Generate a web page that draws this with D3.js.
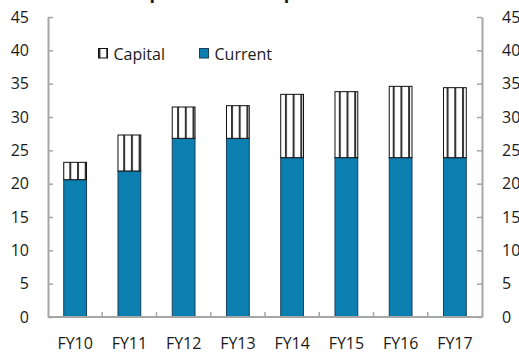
<!DOCTYPE html>
<html>
<head>
<meta charset="utf-8">
<script src="https://cdn.jsdelivr.net/npm/d3@7"></script>
<style>
  body { margin: 0; background: #fff; }
  text { font-family: "Open Sans", sans-serif; fill: #1a1a1a; }
</style>
</head>
<body>
<script>
// data
var years = ["FY10", "FY11", "FY12", "FY13", "FY14", "FY15", "FY16", "FY17"];
var current = [20.6, 21.9, 26.8, 26.8, 23.9, 23.9, 23.9, 23.9];
var capital = [2.6, 5.4, 4.7, 4.9, 9.5, 9.9, 10.7, 10.5];
var yTicks = [0, 5, 10, 15, 20, 25, 30, 35, 40, 45];
var series = ["Current", "Capital"];

var width = 519, height = 353;
var margin = {top: 17, right: 37, bottom: 36, left: 48};

var svg = d3.select("body").append("svg")
    .attr("width", width)
    .attr("height", height);

var defs = svg.append("defs");
var pat = defs.append("pattern")
    .attr("id", "vstripe")
    .attr("patternUnits", "userSpaceOnUse")
    .attr("width", 7.7)
    .attr("height", 10);
pat.append("rect").attr("width", 7.7).attr("height", 10).attr("fill", "#fff");
pat.append("rect").attr("x", 0).attr("width", 2).attr("height", 10).attr("fill", "#333");

var x = d3.scaleBand()
    .domain(years)
    .range([margin.left, width - margin.right])
    .paddingInner(0.58)
    .paddingOuter(0.29);

var y = d3.scaleLinear()
    .domain([0, 45])
    .range([height - margin.bottom, margin.top]);

// title, mostly cut off at top as in the source
svg.append("text")
    .attr("x", 243)
    .attr("y", -1)
    .attr("text-anchor", "middle")
    .style("font-weight", "bold")
    .style("font-size", "18px")
    .text("Expenditure Composition");

var stacked = d3.stack().keys(series)(years.map(function(d, i) {
    return {year: d, Current: current[i], Capital: capital[i]};
}));

svg.append("g").selectAll("g")
    .data(stacked)
    .enter().append("g")
    .attr("fill", function(d) { return d.key == "Current" ? "#0a7fb0" : "url(#vstripe)"; })
    .attr("stroke", function(d) { return d.key == "Current" ? "#1b3f5e" : "#111"; })
    .attr("stroke-width", 1)
    .selectAll("rect")
    .data(function(d) { return d; })
    .enter().append("rect")
    .attr("x", function(d) { return x(d.data.year); })
    .attr("y", function(d) { return y(d[1]); })
    .attr("width", x.bandwidth())
    .attr("height", function(d) { return y(d[0]) - y(d[1]); });

// axes
var axisColor = "#a6a6a6";
var left = svg.append("g")
    .attr("transform", "translate(" + margin.left + ",0)")
    .call(d3.axisLeft(y).tickValues(yTicks).tickSizeInner(-5).tickSizeOuter(0).tickPadding(19));
var right = svg.append("g")
    .attr("transform", "translate(" + (width - margin.right) + ",0)")
    .call(d3.axisRight(y).tickValues(yTicks).tickSizeInner(-5).tickSizeOuter(0).tickPadding(20));

var bottom = svg.append("g")
    .attr("transform", "translate(0," + y(0) + ")");
bottom.append("line")
    .attr("x1", margin.left).attr("x2", width - margin.right)
    .attr("stroke", axisColor).attr("stroke-width", 2);
var step = x.step();
bottom.selectAll(".sep")
    .data(years.slice(1))
    .enter().append("line")
    .attr("x1", function(d) { return x(d) - (step - x.bandwidth()) / 2; })
    .attr("x2", function(d) { return x(d) - (step - x.bandwidth()) / 2; })
    .attr("y1", 0).attr("y2", -5)
    .attr("stroke", axisColor).attr("stroke-width", 1.5);
bottom.selectAll(".lab")
    .data(years)
    .enter().append("text")
    .attr("x", function(d) { return x(d) + x.bandwidth() / 2; })
    .attr("y", 32)
    .attr("text-anchor", "middle")
    .style("font-size", "16px")
    .text(function(d) { return d; });

[left, right].forEach(function(a) {
    a.select(".domain").attr("stroke", axisColor).attr("stroke-width", 2);
    a.selectAll(".tick line").attr("stroke", axisColor).attr("stroke-width", 1.5);
    a.selectAll(".tick text").style("font-size", "16px").attr("fill", "#1a1a1a");
});

// legend
var legend = svg.append("g");
var items = [
    {name: "Capital", fill: "url(#vstripe)", stroke: "#111", x: 98.5},
    {name: "Current", fill: "#0a7fb0", stroke: "#1b3f5e", x: 199.5}
];
var li = legend.selectAll("g").data(items).enter().append("g")
    .attr("transform", function(d) { return "translate(" + d.x + ",48.5)"; });
li.append("rect")
    .attr("width", 9).attr("height", 9.5)
    .attr("fill", function(d) { return d.fill; })
    .attr("stroke", function(d) { return d.stroke; });
li.append("text")
    .attr("x", 15).attr("y", 11.5)
    .style("font-size", "16px")
    .text(function(d) { return d.name; });
</script>
</body>
</html>
